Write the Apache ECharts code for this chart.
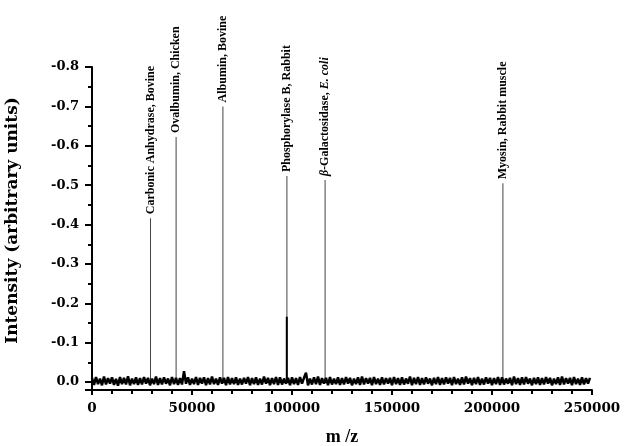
<!DOCTYPE html>
<html>
<head>
<meta charset="utf-8">
<script src="https://cdn.jsdelivr.net/npm/echarts@6/dist/echarts.min.js"></script>
<style>
  html, body { margin: 0; padding: 0; background: #fff; }
  #chart { width: 624px; height: 446px; }
</style>
</head>
<body>
<div id="chart"></div>
<script>
// Protein standard spectrum: m/z vs intensity (arbitrary units)
const PEAK_NAMES = ['Carbonic Anhydrase, Bovine', 'Ovalbumin, Chicken', 'Albumin, Bovine',
  'Phosphorylase B, Rabbit', '{i|β}-Galactosidase, {i|E. coli}', 'Myosin, Rabbit muscle']
const PEAK_MZ = [29500, 42300, 65700, 97700, 116800, 205700]
const PEAK_INT = [-0.416, -0.622, -0.700, -0.523, -0.513, -0.505]

// thicker shoulder under the phosphorylase line
const SHOULDER_MZ = [97400]
const SHOULDER_INT = [-0.166]

// baseline noise, read every 1000 m/z, in 0.001 units
const NOISE_STEP = 1000
const NOISE_MILLI = [
  -11, 7, -13, 5, -9, 8, -14, 6, -10, 4, -12, 7, -8, 9, -13, 5, -11, 6, -15, 8, -9, 5, -12, 7, -10,
  6, -13, 4, -11, 8, -9, 5, -14, 7, -10, 6, -12, 4, -9, 8, -13, 5, -11, 7, -10, 6, -28, 4, -12, 7,
  -9, 5, -13, 7, -11, 4, -12, 8, -10, 6, -14, 5, -9, 7, -12, 4, -11, 8, -13, 6, -10, 5, -12, 7, -9,
  6, -11, 4, -13, 8, -10, 5, -12, 7, -9, 6, -14, 4, -11, 8, -10, 5, -13, 7, -12, 6, -9, 4, -11, 8,
  -12, 5, -10, 7, -13, 4, -11, -24, 8, -9, 6, -12, 5, -14, 7, -10, 4, -11, 8, -13, 6, -9, 5, -12, 7,
  -10, 6, -13, 4, -11, 8, -9, 5, -12, 7, -14, 6, -10, 4, -11, 8, -13, 5, -9, 7, -12, 6, -10, 4, -11,
  8, -13, 5, -10, 7, -12, 6, -9, 4, -14, 8, -11, 5, -13, 7, -10, 6, -12, 4, -9, 8, -11, 5, -13, 7,
  -10, 6, -12, 4, -11, 8, -13, 5, -9, 7, -12, 6, -14, 4, -10, 8, -11, 5, -13, 7, -9, 6, -12, 4, -11,
  8, -10, 5, -13, 7, -12, 6, -9, 4, -11, 8, -14, 5, -10, 7, -12, 6, -13, 4, -9, 8, -11, 5, -12, 7,
  -10, 6, -13, 4, -11, 8, -9, 5, -12, 7, -14, 6, -10, 4, -11, 8, -13, 5, -9, 7, -12, 6, -10, 4, -11
]

const SERIF = '"Liberation Serif", "DejaVu Serif", serif'
const WIDE = '"DejaVu Serif", serif'
const noise = NOISE_MILLI.map((v, i) => [i * NOISE_STEP, v / 1000])
const peaks = PEAK_MZ.map((x, i) => [x, PEAK_INT[i]])
const shoulder = SHOULDER_MZ.map((x, i) => [x, SHOULDER_INT[i]])

const chart = echarts.init(document.getElementById('chart'))
chart.setOption({
  backgroundColor: '#fff',
  animation: false,
  grid: { left: 92, right: 32, top: 67, bottom: 56, outerBoundsMode: 'none', containLabel: false },
  xAxis: {
    type: 'value', min: 0, max: 250000, interval: 50000,
    name: 'm /z', nameLocation: 'middle', nameGap: 38,
    nameTextStyle: { fontFamily: SERIF, fontWeight: 'bold', fontSize: 18, color: '#000' },
    axisLine: { onZero: false, lineStyle: { color: '#000', width: 2 } },
    axisTick: { length: 5, lineStyle: { color: '#000', width: 2 } },
    minorTick: { show: true, splitNumber: 5, length: 4, lineStyle: { color: '#000', width: 2 } },
    splitLine: { show: false },
    axisLabel: { fontFamily: WIDE, fontWeight: 'bold', fontSize: 13.5, color: '#000', margin: 11, formatter: v => String(v) }
  },
  yAxis: {
    type: 'value', inverse: true, min: -0.8, max: 0.02, interval: 0.1,
    name: 'Intensity (arbitrary units)', nameLocation: 'middle', nameGap: 71,
    nameTextStyle: { fontFamily: WIDE, fontWeight: 'bold', fontSize: 17, color: '#000', padding: [0, 0, 0, 16] },
    axisLine: { lineStyle: { color: '#000', width: 2 } },
    axisTick: { length: 7, lineStyle: { color: '#000', width: 2 } },
    minorTick: { show: true, splitNumber: 2, length: 4, lineStyle: { color: '#000', width: 2 } },
    splitLine: { show: false },
    axisLabel: {
      fontFamily: WIDE, fontWeight: 'bold', fontSize: 13, color: '#000', margin: 13,
      showMaxLabel: false,
      formatter: v => v.toFixed(1).replace('-0.0', '0.0')
    }
  },
  series: [
    {
      type: 'line', data: noise, symbol: 'none', silent: true,
      lineStyle: { color: '#000', width: 2.5 }
    },
    {
      type: 'bar', data: peaks, barWidth: 1, barGap: '-100%', silent: true,
      itemStyle: { color: '#444' },
      label: {
        show: true, position: 'top', rotate: 90, align: 'left', verticalAlign: 'middle',
        distance: 4, fontFamily: SERIF, fontWeight: 'bold', fontSize: 12, color: '#000',
        formatter: p => PEAK_NAMES[p.dataIndex],
        rich: { i: { fontFamily: SERIF, fontWeight: 'bold', fontStyle: 'italic', fontSize: 12, color: '#000' } }
      }
    },
    {
      type: 'bar', data: shoulder, barWidth: 2, barGap: '-100%', silent: true,
      itemStyle: { color: '#000' }
    }
  ]
})
</script>
</body>
</html>
